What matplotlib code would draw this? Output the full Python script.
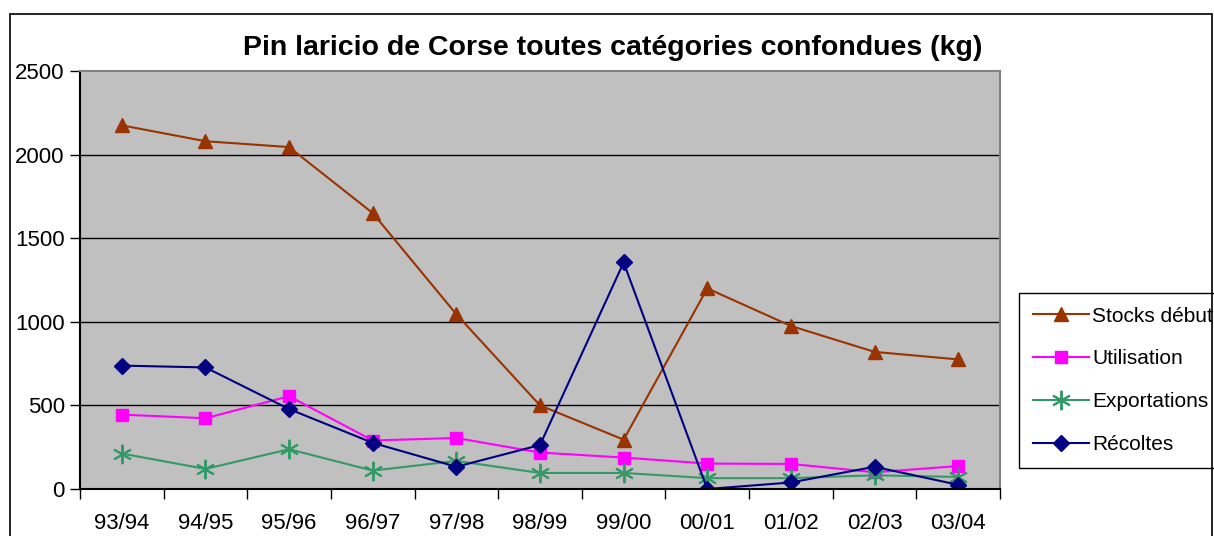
import matplotlib
matplotlib.use("Agg")
import matplotlib.pyplot as plt
from matplotlib.patches import Rectangle

categories = ["93/94", "94/95", "95/96", "96/97", "97/98", "98/99", "99/00", "00/01", "01/02", "02/03", "03/04"]
stocks = [2175, 2080, 2045, 1650, 1045, 500, 295, 1200, 975, 820, 775]
utilisation = [445, 423, 555, 290, 305, 218, 188, 152, 150, 100, 137]
exportations = [212, 120, 238, 110, 168, 96, 96, 65, 65, 82, 72]
recoltes = [738, 727, 478, 276, 133, 263, 1355, 0, 39, 133, 25]
yticks = [0, 500, 1000, 1500, 2000, 2500]
title = "Pin laricio de Corse toutes catégories confondues (kg)"

plt.rcParams['font.family'] = ['Liberation Sans', 'DejaVu Sans']

W, H = 1214, 536
fig = plt.figure(figsize=(W / 100, H / 100), dpi=100)
fig.patch.set_facecolor('white')

# outer chart border
fig.patches.append(Rectangle((10 / W, -0.05), 1202 / W, 1 - 14 / H + 0.05,
                             transform=fig.transFigure, fill=False,
                             edgecolor='black', linewidth=1.2))

left, right, top, bottom = 80, 1000, 71, 489
ax = fig.add_axes([left / W, 1 - bottom / H, (right - left) / W, (bottom - top) / H])
ax.set_facecolor('#C0C0C0')

x = list(range(len(categories)))
ax.plot(x, stocks, color='#993300', marker='^', markersize=10.5, lw=1.5, label='Stocks début')
ax.plot(x, utilisation, color='#FF00FF', marker='s', markersize=9, lw=1.5, label='Utilisation')
ax.plot(x, exportations, color='#339966', marker=(6, 2, 0), markersize=14, mew=1.4, lw=1.5, label='Exportations')
ax.plot(x, recoltes, color='#000080', marker='D', markersize=8.5, lw=1.5, label='Récoltes')

ax.set_xlim(-0.5, len(categories) - 0.5)
ax.set_ylim(0, 2500)
ax.set_yticks(yticks)
ax.set_yticklabels([str(v) for v in yticks], fontsize=16)
ax.set_xticks([i + 0.5 for i in range(-1, len(categories))], minor=False)
ax.set_xticklabels([])
ax.set_xticks(x, minor=True)
ax.set_xticklabels(categories, minor=True, fontsize=16)
ax.tick_params(axis='x', which='major', direction='out', length=7, width=1, color='black')
ax.tick_params(axis='x', which='minor', length=0, pad=17)
ax.tick_params(axis='y', direction='out', length=7, width=1, color='black', pad=4)

for v in yticks[1:-1]:
    ax.axhline(v, color='black', lw=1, zorder=1)
ax.set_axisbelow(True)

ax.spines['left'].set_color('black')
ax.spines['bottom'].set_color('black')
ax.spines['top'].set_color('#808080')
ax.spines['right'].set_color('#808080')
for s in ax.spines.values():
    s.set_linewidth(1.5)

fig.text(613 / W, 1 - 48 / H, title, fontsize=20.5, fontweight='bold', ha='center', va='center')

leg = ax.legend(loc='upper left', bbox_to_anchor=(1019 / W, 1 - 293 / H),
                bbox_transform=fig.transFigure, fontsize=15, frameon=True,
                fancybox=False, edgecolor='black', framealpha=1,
                handlelength=2.7, handletextpad=0.15, labelspacing=1.15,
                borderpad=0.65, borderaxespad=0)
leg.get_frame().set_linewidth(1)

fig.savefig('out.png', dpi=100)
